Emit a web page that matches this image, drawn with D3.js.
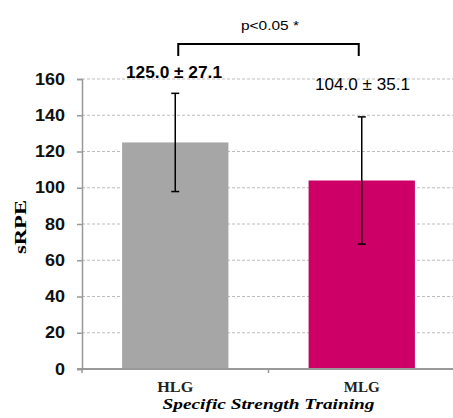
<!DOCTYPE html>
<html><head><meta charset="utf-8">
<script src="https://cdn.jsdelivr.net/npm/d3@7"></script>
<style>body{margin:0;background:#fff}svg{display:block}</style>
</head><body>
<svg id="c" width="453" height="418"></svg>
<script>
const categories = ["HLG", "MLG"];
const means = [125.0, 104.0];
const sds = [27.1, 35.1];
const meanLabels = ["125.0 ± 27.1", "104.0 ± 35.1"];
const colors = ["#a6a6a6", "#cc0066"];
const yTicks = [0, 20, 40, 60, 80, 100, 120, 140, 160];

const svg = d3.select("#c");
const mLeft = 82, mRight = 455, mTop = 79, mBottom = 369;
const x = d3.scaleBand().domain(categories).range([mLeft, mRight]).paddingInner(0.43).paddingOuter(0.215);
const xOuter = d3.scaleBand().domain(categories).range([mLeft, mRight]);
const y = d3.scaleLinear().domain([0, 160]).range([mBottom, mTop]);

// gridlines
svg.append("g").selectAll("line").data(yTicks.filter(d => d > 0)).join("line")
  .attr("x1", mLeft).attr("x2", 453).attr("y1", d => y(d)).attr("y2", d => y(d))
  .attr("stroke", "#bdbdbd").attr("stroke-width", 1).attr("stroke-dasharray", "3,2");

// bars
svg.append("g").selectAll("rect").data(categories).join("rect")
  .attr("x", d => x(d)).attr("width", x.bandwidth())
  .attr("y", (d, i) => y(means[i])).attr("height", (d, i) => mBottom - y(means[i]))
  .attr("fill", (d, i) => colors[i]);

// y axis
const ya = svg.append("g").attr("transform", `translate(${mLeft},0)`)
  .call(d3.axisLeft(y).tickValues(yTicks).tickSize(5).tickPadding(12));
ya.select(".domain").attr("stroke", "#999").attr("stroke-width", 1.5);
ya.selectAll(".tick line").attr("stroke", "#999").attr("stroke-width", 1.5);
ya.selectAll("text").attr("font-family", "Liberation Sans, Arial, sans-serif")
  .attr("font-weight", "bold").attr("font-size", 16).attr("fill", "#111")
  .attr("textLength", d => String(d).length * 10).attr("lengthAdjust", "spacingAndGlyphs");

// x axis
const xa = svg.append("g").attr("transform", `translate(0,${mBottom})`);
xa.append("line").attr("x1", mLeft - 5).attr("x2", 453).attr("y1", 0).attr("y2", 0)
  .attr("stroke", "#999").attr("stroke-width", 2);
xa.selectAll(".sep").data([categories[1]]).join("line").attr("class", "sep")
  .attr("x1", d => xOuter(d)).attr("x2", d => xOuter(d)).attr("y1", 0).attr("y2", 4)
  .attr("stroke", "#999").attr("stroke-width", 1.5);
xa.append("line").attr("x1", mLeft).attr("x2", mLeft).attr("y1", 0).attr("y2", 4)
  .attr("stroke", "#999").attr("stroke-width", 1.5);
xa.selectAll(".cl").data(categories).join("text").attr("class", "cl")
  .attr("x", d => x(d) + x.bandwidth() / 2).attr("y", 23)
  .attr("text-anchor", "middle").attr("font-family", "Liberation Serif, Times New Roman, serif")
  .attr("font-weight", "bold").attr("font-size", 14).attr("fill", "#222")
  .attr("textLength", 36).attr("lengthAdjust", "spacingAndGlyphs").text(d => d);

svg.append("text").attr("x", 268.5).attr("y", 409).attr("text-anchor", "middle")
  .attr("font-family", "Liberation Serif, Times New Roman, serif").attr("font-weight", "bold")
  .attr("font-style", "italic").attr("font-size", 15.5)
  .attr("textLength", 212).attr("lengthAdjust", "spacingAndGlyphs").text("Specific Strength Training");

svg.append("text").attr("transform", "translate(26,227) rotate(-90)").attr("text-anchor", "middle")
  .attr("font-family", "Liberation Serif, Times New Roman, serif").attr("font-weight", "bold")
  .attr("font-size", 17).attr("textLength", 54).attr("lengthAdjust", "spacingAndGlyphs").text("sRPE");

// error bars
const eb = svg.append("g").attr("stroke", "#000").attr("stroke-width", 1.5);
categories.forEach((c, i) => {
  const cx = x(c) + x.bandwidth() / 2;
  eb.append("line").attr("x1", cx).attr("x2", cx).attr("y1", y(means[i] + sds[i])).attr("y2", y(means[i] - sds[i]));
  eb.append("line").attr("x1", cx - 4).attr("x2", cx + 4).attr("y1", y(means[i] + sds[i])).attr("y2", y(means[i] + sds[i]));
  eb.append("line").attr("x1", cx - 4).attr("x2", cx + 4).attr("y1", y(means[i] - sds[i])).attr("y2", y(means[i] - sds[i]));
});

// value labels
svg.append("text").attr("x", 174).attr("y", 78).attr("text-anchor", "middle")
  .attr("font-family", "Liberation Sans, Arial, sans-serif").attr("font-weight", "bold")
  .attr("font-size", 16).attr("textLength", 96).attr("lengthAdjust", "spacingAndGlyphs")
  .text(meanLabels[0]);
svg.append("text").attr("x", 362.5).attr("y", 90).attr("text-anchor", "middle")
  .attr("font-family", "Liberation Sans, Arial, sans-serif")
  .attr("font-size", 16).attr("textLength", 95).attr("lengthAdjust", "spacingAndGlyphs")
  .text(meanLabels[1]);

// significance bracket
const b1 = x(categories[0]) + x.bandwidth() / 2 + 3, b2 = x(categories[1]) + x.bandwidth() / 2 - 3;
svg.append("path").attr("d", `M${b1},56 V44 H${b2} V56`).attr("fill", "none")
  .attr("stroke", "#000").attr("stroke-width", 2);
svg.append("text").attr("x", 270).attr("y", 30).attr("text-anchor", "middle")
  .attr("font-family", "Liberation Sans, Arial, sans-serif").attr("font-size", 13)
  .attr("textLength", 58).attr("lengthAdjust", "spacingAndGlyphs")
  .text("p<0.05 *");
</script>
</body></html>
